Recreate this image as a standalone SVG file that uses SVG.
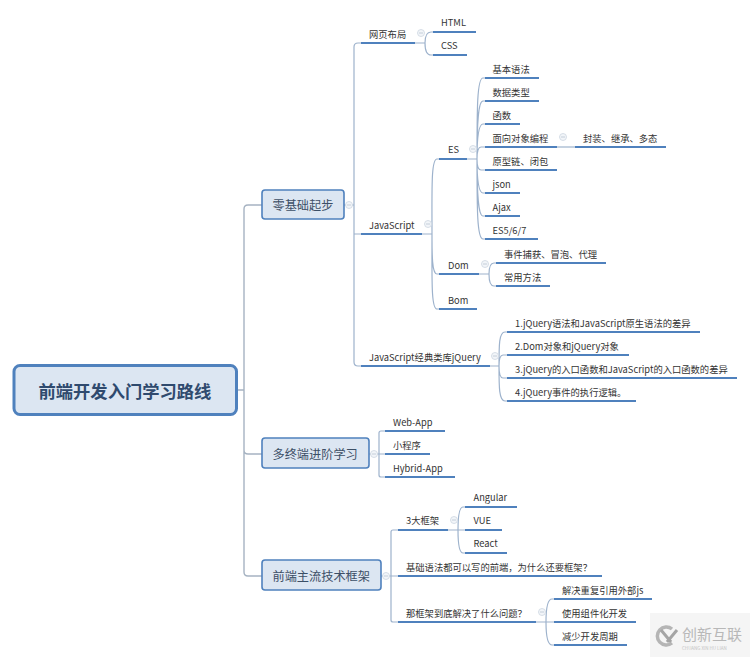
<svg xmlns="http://www.w3.org/2000/svg" width="750" height="657" viewBox="0 0 750 657">
<style>
text{font-family:"Noto Sans CJK SC","Liberation Sans",sans-serif;font-size:9.300px;fill:#333;dominant-baseline:central}
.u{stroke:#4f81bd;stroke-width:2;fill:none}
.c{stroke:#9db2cc;stroke-width:1.200;fill:none}
.t{stroke:#a6b3c2;stroke-width:1.400;fill:none}
.b{fill:#dce6f2;stroke:#4f81bd;stroke-width:1.600}
.m{fill:#f2f5f9;stroke:#cdd6e1;stroke-width:.8}
.h{font-size:12.200px;fill:#3c4f66}
</style>
<defs><g id="tog"><circle class="m" r="3.500"/><path d="M-2 0H2" stroke="#b9c4d2" stroke-width=".8"/></g></defs>
<rect width="750" height="657" fill="#fff"/>
<g id="connectors">
<path class="t" d="M237 390H244M262 205H248Q244 205 244 209V572Q244 576 248 576H262M244 450Q244 454 248 454H262"/>
<path class="c" d="M344 205H354M361 43H358Q354 43 354 47V362Q354 366 358 366H361M354 234H361"/>
<path class="c" d="M415 43H425M433 32H431Q425 32 425 43Q425 55 431 55H433"/>
<path class="c" d="M422 234H432M439 159H437C431 159 432 190 432 234C432 278 431 309 437 309H439M432 234C432 255 432 274 437 274H439"/>
<path class="c" d="M467 159H477M485 78H483C477 78 477 110 477 159C477 208 477 239 483 239H485M485 101H483C478 101 477 125 477 159M485 124H483C478 124 477 140 477 159M485 147H481Q477 147 477 159M485 170H481Q477 170 477 159M485 193H483C478 193 477 178 477 159M485 216H483C478 216 477 193 477 159"/>
<path class="c" d="M557 147H575"/>
<path class="c" d="M479 274H489M496 263H494Q489 263 489 274Q489 286 494 286H496"/>
<path class="c" d="M490 366H499M507 332H505C499 332 499 345 499 366C499 387 499 401 505 401H507M507 355H503Q499 355 499 366Q499 378 503 378H507"/>
<path class="c" d="M369 454H379M385 431H381Q379 431 379 433V475Q379 477 381 477H385M379 454H385"/>
<path class="c" d="M381 576H391M398 530H393Q391 530 391 532V620Q391 622 393 622H398M391 576H398"/>
<path class="c" d="M448 530H458M465 507H463Q458 507 458 530Q458 553 463 553H465M458 530H465"/>
<path class="c" d="M536 622H546M554 599H552Q546 599 546 622Q546 645 552 645H554M546 622H554"/>
</g>
<g id="root"><rect x="14" y="365.500" width="222.500" height="49" rx="6" fill="#dce6f2" stroke="#4f81bd" stroke-width="3"/><text x="38.500" y="390" style="font-size:17.300px;font-weight:700;fill:#2f4a6e">前端开发入门学习路线</text></g>
<g id="n-zero"><rect class="b" x="262" y="190" width="82" height="29" rx="3"/><text class="h" x="272.500" y="205">零基础起步</text></g>
<g id="n-multi"><rect class="b" x="262" y="438" width="107" height="30" rx="3"/><text class="h" x="272.500" y="454">多终端进阶学习</text></g>
<g id="n-frame"><rect class="b" x="262" y="560" width="119" height="30" rx="3"/><text class="h" x="272.500" y="576">前端主流技术框架</text></g>
<g id="n-layout"><path class="u" d="M361 43H415"/><text x="369" y="33.500">网页布局</text></g>
<g id="n-html"><path class="u" d="M433 32H476"/><text x="441" y="22">HTML</text></g>
<g id="n-css"><path class="u" d="M433 55H467"/><text x="441" y="45">CSS</text></g>
<g id="n-js"><path class="u" d="M361 234H422"/><text x="369" y="224.500">JavaScript</text></g>
<g id="n-es"><path class="u" d="M439 159H467"/><text x="448" y="149">ES</text></g>
<g id="n-es1"><path class="u" d="M485 78H539"/><text x="492.500" y="69">基本语法</text></g>
<g id="n-es2"><path class="u" d="M485 101H539"/><text x="492.500" y="92">数据类型</text></g>
<g id="n-es3"><path class="u" d="M485 124H520"/><text x="492.500" y="115">函数</text></g>
<g id="n-es4"><path class="u" d="M485 147H557"/><text x="492.500" y="138">面向对象编程</text></g>
<g id="n-es4a"><path class="u" d="M575 147H666"/><text x="583" y="138">封装、继承、多态</text></g>
<g id="n-es5"><path class="u" d="M485 170H557"/><text x="492.500" y="161">原型链、闭包</text></g>
<g id="n-es6"><path class="u" d="M485 193H520"/><text x="492.500" y="184">json</text></g>
<g id="n-es7"><path class="u" d="M485 216H520"/><text x="492.500" y="207">Ajax</text></g>
<g id="n-es8"><path class="u" d="M485 239H538"/><text x="492.500" y="230">ES5/6/7</text></g>
<g id="n-dom"><path class="u" d="M439 274H479"/><text x="448" y="265">Dom</text></g>
<g id="n-dom1"><path class="u" d="M496 263H606"/><text x="504" y="253.500">事件捕获、冒泡、代理</text></g>
<g id="n-dom2"><path class="u" d="M496 286H550"/><text x="504" y="276.500">常用方法</text></g>
<g id="n-bom"><path class="u" d="M439 309H477"/><text x="448" y="299.500">Bom</text></g>
<g id="n-jq"><path class="u" d="M361 366H490"/><text x="369" y="357">JavaScript经典类库jQuery</text></g>
<g id="n-jq1"><path class="u" d="M507 332H700"/><text x="515" y="323">1.jQuery语法和JavaScript原生语法的差异</text></g>
<g id="n-jq2"><path class="u" d="M507 355H629"/><text x="515" y="346">2.Dom对象和jQuery对象</text></g>
<g id="n-jq3"><path class="u" d="M507 378H737"/><text x="515" y="369">3.jQuery的入口函数和JavaScript的入口函数的差异</text></g>
<g id="n-jq4"><path class="u" d="M507 401H636"/><text x="515" y="392">4.jQuery事件的执行逻辑。</text></g>
<g id="n-web"><path class="u" d="M385 431H445"/><text x="393" y="421.500">Web-App</text></g>
<g id="n-mini"><path class="u" d="M385 454H430"/><text x="393" y="444.500">小程序</text></g>
<g id="n-hybrid"><path class="u" d="M385 477H455"/><text x="393" y="467.500">Hybrid-App</text></g>
<g id="n-three"><path class="u" d="M398 530H448"/><text x="406" y="520">3大框架</text></g>
<g id="n-ang"><path class="u" d="M465 507H517"/><text x="473.500" y="497">Angular</text></g>
<g id="n-vue"><path class="u" d="M465 530H502"/><text x="473.500" y="520">VUE</text></g>
<g id="n-react"><path class="u" d="M465 553H507"/><text x="473.500" y="543">React</text></g>
<g id="n-why"><path class="u" d="M398 576H602"/><text x="406" y="566.500">基础语法都可以写的前端，为什么还要框架？</text></g>
<g id="n-what"><path class="u" d="M398 622H536"/><text x="406" y="612.500">那框架到底解决了什么问题？</text></g>
<g id="n-w1"><path class="u" d="M554 599H652"/><text x="562" y="589.500">解决重复引用外部js</text></g>
<g id="n-w2"><path class="u" d="M554 622H636"/><text x="562" y="612.500">使用组件化开发</text></g>
<g id="n-w3"><path class="u" d="M554 645H627"/><text x="562" y="635.500">减少开发周期</text></g>
<g id="toggles">
<use href="#tog" x="349" y="205"/><use href="#tog" x="421" y="33"/><use href="#tog" x="428" y="224"/><use href="#tog" x="473" y="149"/><use href="#tog" x="563" y="137"/><use href="#tog" x="485" y="264"/><use href="#tog" x="495" y="356"/><use href="#tog" x="374" y="454"/><use href="#tog" x="386" y="576"/><use href="#tog" x="454" y="520"/><use href="#tog" x="542" y="612"/>
</g>
<g id="watermark">
<rect x="650" y="613" width="100" height="44" fill="#f5f5f5"/>
<path d="M672 629A9 9 0 1 0 672 643" fill="none" stroke="#b5b5b5" stroke-width="3.500"/>
<path d="M661 630L671 642M677 630L667 642" stroke="#a5a5a5" stroke-width="3" fill="none"/>
<text x="682" y="633" style="font-size:15px;fill:#b8b8b8">创新互联</text>
<text x="682" y="648" style="font-size:4.500px;fill:#c4c4c4">CHUANG XIN HU LIAN</text>
</g>
</svg>
